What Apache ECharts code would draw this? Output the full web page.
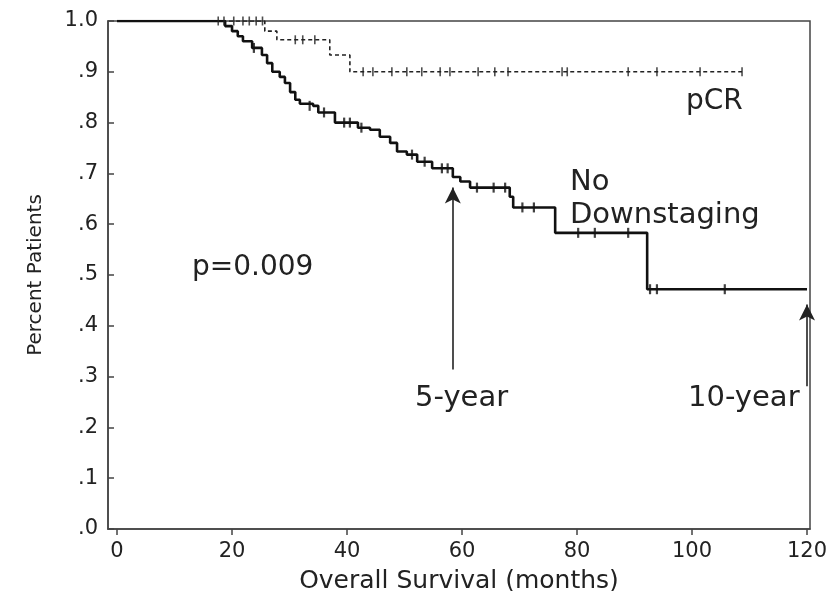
<!DOCTYPE html>
<html>
<head>
<meta charset="utf-8">
<script src="https://cdn.jsdelivr.net/npm/echarts@6/dist/echarts.min.js"></script>
<style>html,body{margin:0;padding:0;background:#fff}#c{width:827px;height:591px}</style>
</head>
<body>
<div id="c"></div>
<script>
// No Downstaging curve (Kaplan-Meier steps)
var ndMonths = [0, 18.8, 20.0, 21.0, 21.9, 23.5, 25.2, 26.1, 27.0, 28.3, 29.2, 30.1, 31.0, 31.8, 34.1, 35.0, 37.9, 41.9, 44.0, 45.7, 47.5, 48.7, 50.4, 52.2, 54.8, 58.4, 59.7, 61.4, 68.3, 68.9, 76.2, 92.2, 120];
var ndSurv   = [1.0, 0.99, 0.98, 0.97, 0.96, 0.947, 0.933, 0.917, 0.90, 0.89, 0.878, 0.86, 0.845, 0.837, 0.833, 0.82, 0.80, 0.79, 0.786, 0.772, 0.76, 0.743, 0.737, 0.723, 0.71, 0.693, 0.684, 0.672, 0.654, 0.633, 0.583, 0.472, 0.472];
// No Downstaging censored observations
var ndCensMonths = [23.8, 33.5, 36.0, 39.5, 40.5, 42.5, 51.3, 53.5, 56.5, 57.5, 62.6, 65.5, 67.5, 70.5, 72.5, 80.2, 83.1, 88.9, 92.7, 93.9, 105.7];
var ndCensSurv   = [0.947, 0.833, 0.82, 0.80, 0.80, 0.79, 0.737, 0.723, 0.71, 0.71, 0.672, 0.672, 0.672, 0.633, 0.633, 0.583, 0.583, 0.583, 0.472, 0.472, 0.472];
// pCR curve
var pcrMonths = [0, 25.7, 27.8, 37.0, 40.5, 108.7];
var pcrSurv   = [1.0, 0.98, 0.963, 0.933, 0.90, 0.90];
var pcrCensMonths = [17.6, 18.6, 20.3, 21.9, 23.0, 24.2, 25.3, 31.0, 32.3, 34.4, 42.8, 44.5, 47.8, 50.4, 53.0, 56.2, 57.9, 62.8, 65.7, 68.0, 77.4, 78.3, 88.9, 93.9, 101.4, 108.7];
var pcrCensSurv   = [1.0, 1.0, 1.0, 1.0, 1.0, 1.0, 1.0, 0.963, 0.963, 0.963, 0.90, 0.90, 0.90, 0.90, 0.90, 0.90, 0.90, 0.90, 0.90, 0.90, 0.90, 0.90, 0.90, 0.90, 0.90, 0.90];
// axes
var xTicks = [0, 20, 40, 60, 80, 100, 120];
var yTicks = [0, 0.1, 0.2, 0.3, 0.4, 0.5, 0.6, 0.7, 0.8, 0.9, 1.0];
// annotation arrows [month, from, to]
var arrow5 = [58.4, 0.314, 0.672];
var arrow10 = [120, 0.281, 0.442];

function zip(a, b) { return a.map(function (v, i) { return [v, b[i]]; }); }

var FONT = 'DejaVu Sans';
var TXT = '#222';
var AX = '#444';

var chart = echarts.init(document.getElementById('c'), null, {renderer: 'canvas'});
chart.setOption({
  animation: false,
  backgroundColor: '#fff',
  grid: {left: 108, right: 17, top: 21, bottom: 62, outerBoundsMode: 'none', containLabel: false,
         show: true, borderColor: AX, borderWidth: 1.5, backgroundColor: 'transparent'},
  xAxis: {
    type: 'value', min: -1.57, max: 120.52,
    name: 'Overall Survival (months)', nameLocation: 'middle', nameGap: 40,
    nameTextStyle: {fontFamily: FONT, fontSize: 25, color: TXT},
    axisLine: {show: true, lineStyle: {color: AX, width: 1.5}},
    axisTick: {show: true, inside: false, length: 6, lineStyle: {color: AX, width: 1.5}, customValues: xTicks},
    axisLabel: {fontFamily: FONT, fontSize: 21, color: TXT, margin: 12, customValues: xTicks},
    splitLine: {show: false}
  },
  yAxis: {
    type: 'value', min: 0, max: 1,
    name: 'Percent Patients', nameLocation: 'middle', nameGap: 62,
    nameTextStyle: {fontFamily: FONT, fontSize: 20, color: TXT},
    axisLine: {show: true, onZero: false, lineStyle: {color: AX, width: 1.5}},
    axisTick: {show: true, inside: true, length: 6, lineStyle: {color: AX, width: 1.5}, customValues: yTicks},
    axisLabel: {fontFamily: FONT, fontSize: 21, color: TXT, margin: 10, customValues: yTicks,
      formatter: function (v) { return v >= 0.999 ? '1.0' : '.' + Math.round(v * 10); }},
    splitLine: {show: false}
  },
  series: [
    {
      type: 'line', name: 'pCR', step: 'end', data: zip(pcrMonths, pcrSurv),
      showSymbol: false, lineStyle: {color: '#222', width: 1.6, type: [4, 3]}, z: 3
    },
    {
      type: 'line', name: 'No Downstaging', step: 'end', data: zip(ndMonths, ndSurv),
      showSymbol: false, lineStyle: {color: '#111', width: 2.6}, z: 4,
      markLine: {
        silent: true, symbol: ['none', 'arrow'], symbolSize: [12, 16],
        label: {show: false},
        lineStyle: {color: '#222', width: 1.6, type: 'solid'},
        data: [
          [{coord: [arrow5[0], arrow5[1]]}, {coord: [arrow5[0], arrow5[2]]}],
          [{coord: [arrow10[0], arrow10[1]]}, {coord: [arrow10[0], arrow10[2]]}]
        ]
      }
    },
    {
      type: 'scatter', data: zip(pcrCensMonths, pcrCensSurv), symbol: 'rect', symbolSize: [1.6, 9],
      itemStyle: {color: '#222'}, z: 5
    },
    {
      type: 'scatter', data: zip(ndCensMonths, ndCensSurv), symbol: 'rect', symbolSize: [2.2, 10],
      itemStyle: {color: '#111'}, z: 5
    }
  ],
  graphic: [
    {type: 'text', left: 686, top: 88, style: {text: 'pCR', font: '28px "DejaVu Sans"', fill: TXT}},
    {type: 'text', left: 570, top: 168, style: {text: 'No', font: '29px "DejaVu Sans"', fill: TXT}},
    {type: 'text', left: 570, top: 201, style: {text: 'Downstaging', font: '29px "DejaVu Sans"', fill: TXT}},
    {type: 'text', left: 192, top: 254, style: {text: 'p=0.009', font: '28px "DejaVu Sans"', fill: TXT}},
    {type: 'text', left: 415, top: 384, style: {text: '5-year', font: '29px "DejaVu Sans"', fill: TXT}},
    {type: 'text', left: 688, top: 384, style: {text: '10-year', font: '29px "DejaVu Sans"', fill: TXT}}
  ]
});
</script>
</body>
</html>
